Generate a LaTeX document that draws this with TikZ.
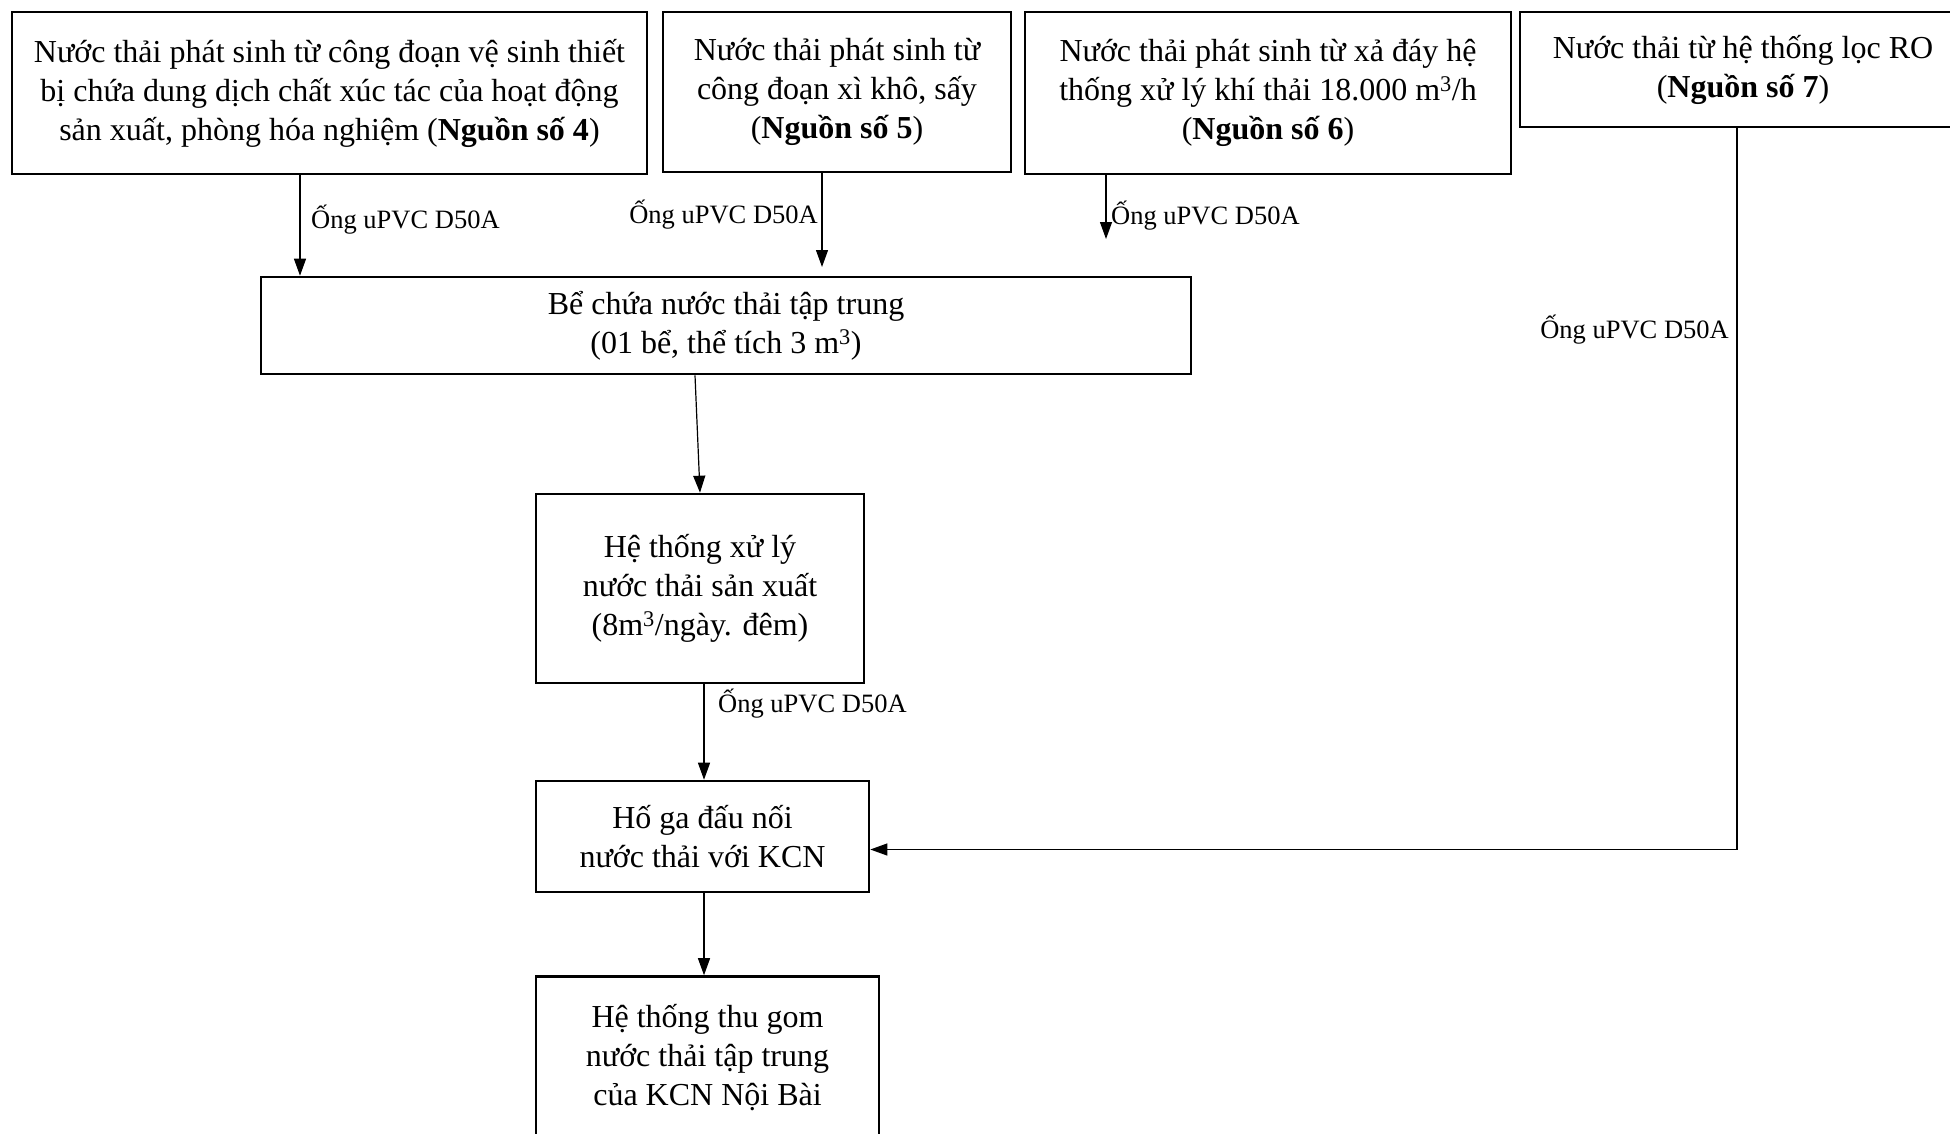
\documentclass[tikz,border=0pt]{standalone}
\usepackage{fontspec}
\setmainfont{Liberation Serif}
\usetikzlibrary{arrows.meta}

\tikzset{
  box/.style={draw, line width=2.6pt, inner sep=0pt, align=center,
    font=\fontsize{32}{39}\selectfont},
  flow/.style={line width=1.2pt, -{Triangle[length=17pt,width=12pt]}},
  pipe/.style={font=\fontsize{26.5}{30}\selectfont, inner sep=0pt},
}

\begin{document}
\begin{tikzpicture}[x=1pt,y=-1pt]
\useasboundingbox (0,0) rectangle (1950,1133);

% source boxes
\node[box, minimum width=635pt, minimum height=162pt] (src4) at (329.5,93)
  {Nước thải phát sinh từ công đoạn vệ sinh thiết\\
   bị chứa dung dịch chất xúc tác của hoạt động\\
   sản xuất, phòng hóa nghiệm (\textbf{Nguồn số 4})};
\node[box, minimum width=348pt, minimum height=160pt] (src5) at (837,92)
  {Nước thải phát sinh từ\\ công đoạn xì khô, sấy\\ (\textbf{Nguồn số 5})};
\node[box, minimum width=486pt, minimum height=162pt] (src6) at (1268,93)
  {Nước thải phát sinh từ xả đáy hệ\\
   thống xử lý khí thải 18.000 m\textsuperscript{3}/h\\ (\textbf{Nguồn số 6})};
\node[box, minimum width=446pt, minimum height=115pt] (src7) at (1743,69.5)
  {Nước thải từ hệ thống lọc RO\\ (\textbf{Nguồn số 7})};

% treatment chain
\node[box, minimum width=930pt, minimum height=97pt] (tank) at (726,325.5)
  {Bể chứa nước thải tập trung\\ (01 bể, thể tích 3 m\textsuperscript{3})};
\node[box, minimum width=328pt, minimum height=189pt] (plant) at (700,588.5)
  {Hệ thống xử lý\\ nước thải sản xuất\\ (8m\textsuperscript{3}/ngày. đêm)};
\node[box, minimum width=333pt, minimum height=111pt] (pit) at (702.5,836.5)
  {Hố ga đấu nối\\ nước thải với KCN};
\node[box, minimum width=343pt, minimum height=163pt] (kcn) at (707.5,1058)
  {Hệ thống thu gom\\ nước thải tập trung\\ của KCN Nội Bài};

% pipe labels
\node[pipe, anchor=west] (p4) at (311,220) {Ống uPVC D50A};
\node[pipe, anchor=east] (p5) at (818,215) {Ống uPVC D50A};
\node[pipe, anchor=west] (p6) at (1111,216) {Ống uPVC D50A};
\node[pipe, anchor=east] (p7) at (1729,330) {Ống uPVC D50A};
\node[pipe, anchor=west] (pp) at (718,704) {Ống uPVC D50A};

% connectors
\coordinate (end6) at (1106,239);
\coordinate (end5) at (822,267);
\draw[flow] ([xshift=-29.5pt]src4.south) -- ([xshift=-29.5pt]src4.south |- tank.north);
\draw[flow] (src5.south -| end5) -- (end5);
\draw[flow] (src6.south -| end6) -- (end6);
\draw[flow] ([xshift=-31pt]tank.south) -- (plant.north);
\draw[flow] ([xshift=4pt]plant.south) -- ([xshift=4pt]plant.south |- pit.north);
\draw[flow] ([xshift=1.5pt]pit.south) -- ([xshift=1.5pt]pit.south |- kcn.north);
\draw[flow] ([xshift=-6pt]src7.south) |- ([yshift=-13pt]pit.east);
\end{tikzpicture}
\end{document}
